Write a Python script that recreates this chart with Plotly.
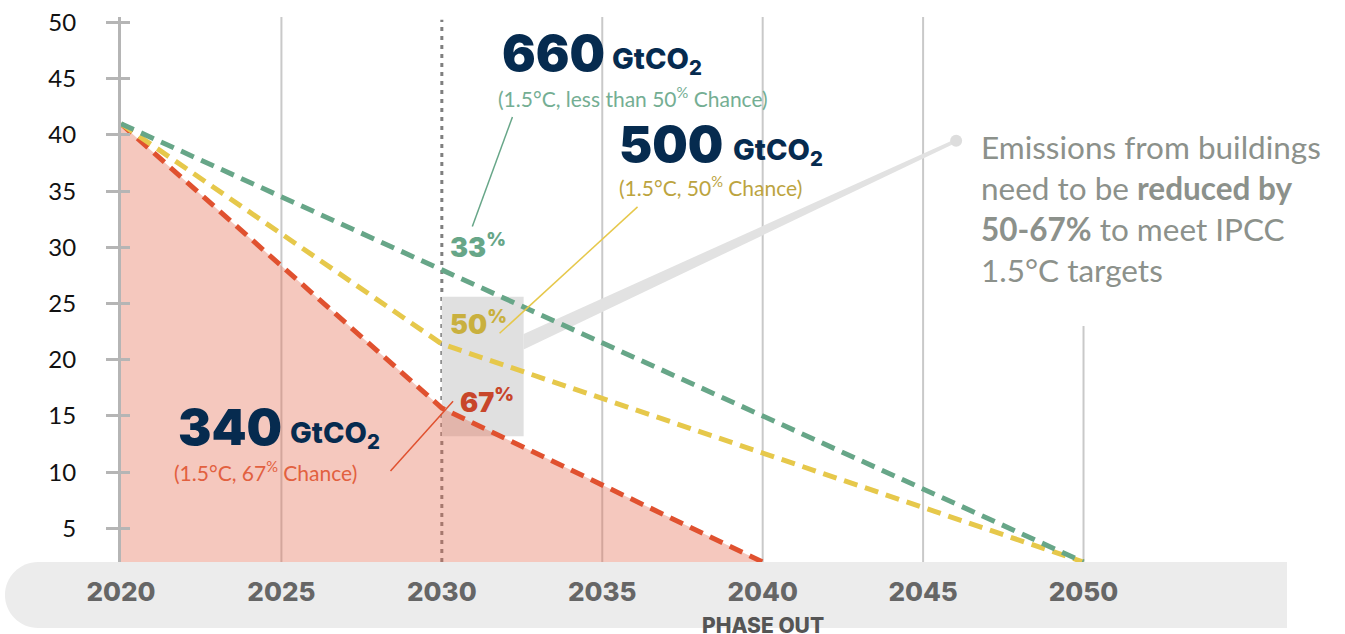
import plotly.graph_objects as go

# Building-sector emission pathways (GtCO2 / yr) for three 1.5°C carbon budgets
years_660 = [2020, 2050]
emis_660 = [41.0, 2.0]

years_500 = [2020, 2030, 2050]
emis_500 = [41.0, 21.4, 2.0]

years_340 = [2020, 2030, 2040]
emis_340 = [41.0, 15.7, 2.0]

axis_years = [2020, 2025, 2030, 2035, 2040, 2045, 2050]
axis_year_labels = ["2020", "2025", "2030", "2035", "2040", "2045", "2050"]
y_ticks = [5, 10, 15, 20, 25, 30, 35, 40, 45, 50]
y_tick_labels = ["5", "10", "15", "20", "25", "30", "35", "40", "45", "50"]

GREEN = "#67a688"
GOLD = "#e6c84b"
RED = "#e0512f"
NAVY = "#062b4f"
AXIS_GREY = "#b5b5b5"
GRID_GREY = "#c9c9c9"
FONT = "Lato, 'Open Sans', sans-serif"
HEAVY = "Inter, Lato, sans-serif"

DASH = "14px,8px"

fig = go.Figure()

# 340 GtCO2 budget: filled area under the pathway
fig.add_trace(go.Scatter(
    x=years_340, y=emis_340, mode="lines",
    line=dict(color=RED, width=5, dash=DASH),
    fill="tozeroy", fillcolor="rgba(230,110,85,0.38)",
    hoverinfo="skip",
))
fig.add_trace(go.Scatter(
    x=years_500, y=emis_500, mode="lines",
    line=dict(color=GOLD, width=5, dash=DASH),
    hoverinfo="skip",
))
fig.add_trace(go.Scatter(
    x=years_660, y=emis_660, mode="lines",
    line=dict(color=GREEN, width=5, dash=DASH),
    hoverinfo="skip",
))
# empty trace so the overlay axis (inner tick stubs) is drawn
fig.add_trace(go.Scatter(x=[], y=[], yaxis="y2", hoverinfo="skip"))

shapes = []

# rounded timeline band behind the year labels (paper coordinates)
xl, xr, yb = -0.0948, 0.9526, -0.1211
rx = 0.027
ry = -yb / 2
ym = yb / 2
k = 0.5523
cx = xl + rx
band_path = (
    f"M {cx},0 L {xr},0 L {xr},{yb} L {cx},{yb} "
    f"C {cx - k * rx},{yb} {xl},{ym - k * ry} {xl},{ym} "
    f"C {xl},{ym + k * ry} {cx - k * rx},0 {cx},0 Z"
)
shapes.append(dict(type="path", path=band_path, xref="paper", yref="paper",
                   fillcolor="#ececec", line=dict(width=0), layer="below"))

# highlight box around the 2030 reduction labels and its callout wedge
shapes.append(dict(type="rect", x0=2030, x1=2032.55, y0=13.2, y1=25.6,
                   xref="x", yref="y", fillcolor="#e0e0e0",
                   line=dict(width=0), layer="below"))
shapes.append(dict(type="path",
                   path="M 2032.55,22.3 L 2046.03,39.67 L 2046.03,39.31 L 2032.55,20.9 Z",
                   xref="x", yref="y", fillcolor="#e2e2e2",
                   line=dict(width=0), layer="below"))
shapes.append(dict(type="circle", xref="x", yref="y",
                   xsizemode="pixel", ysizemode="pixel",
                   xanchor=2046.03, yanchor=39.49,
                   x0=-6, x1=6, y0=-6, y1=6,
                   fillcolor="#dddddd", line=dict(width=0), layer="below"))

# vertical year guides
for yr in [2025, 2035, 2040, 2045]:
    shapes.append(dict(type="line", x0=yr, x1=yr, y0=0, y1=1,
                       xref="x", yref="paper",
                       line=dict(color=GRID_GREY, width=2), layer="below"))
shapes.append(dict(type="line", x0=2050, x1=2050, y0=2, y1=23.0,
                   xref="x", yref="y",
                   line=dict(color=GRID_GREY, width=2), layer="below"))
shapes.append(dict(type="line", x0=2030, x1=2030, y0=0, y1=0.995,
                   xref="x", yref="paper",
                   line=dict(color="#7f7f7f", width=3, dash="4px,5px"),
                   layer="below"))

# leader lines from budget labels to the percentage markers
shapes.append(dict(type="line", x0=2032.2, y0=41.6, x1=2030.95, y1=31.85,
                   xref="x", yref="y", line=dict(color=GREEN, width=1.5)))
shapes.append(dict(type="line", x0=2036.1, y0=33.6, x1=2031.8, y1=22.35,
                   xref="x", yref="y", line=dict(color=GOLD, width=1.5)))
shapes.append(dict(type="line", x0=2030.35, y0=16.3, x1=2028.4, y1=10.1,
                   xref="x", yref="y", line=dict(color=RED, width=1.5)))


def big(text, x, y):
    return dict(x=x, y=y, xref="x", yref="y", text=text, showarrow=False,
                xanchor="left", yanchor="middle",
                font=dict(family=HEAVY, size=50, color=NAVY, weight=900))


def unit(x, y):
    return dict(x=x, y=y, xref="x", yref="y", text="GtCO<sub>2</sub>",
                showarrow=False, xanchor="left", yanchor="middle",
                font=dict(family=HEAVY, size=29, color=NAVY, weight=800))


def sub(text, x, y, color):
    return dict(x=x, y=y, xref="x", yref="y", text=text, showarrow=False,
                xanchor="left", yanchor="middle",
                font=dict(family=FONT, size=21, color=color))


def pct(text, x, y, color):
    return dict(x=x, y=y, xref="x", yref="y", text=text, showarrow=False,
                xanchor="left", yanchor="middle",
                font=dict(family=HEAVY, size=27, color=color, weight=900))


annotations = [
    big("660", 2031.8, 47.3),
    unit(2035.25, 46.65),
    sub("(1.5°C, less than 50<sup>%</sup> Chance)", 2031.7, 43.4, "#74ae93"),
    big("500", 2035.45, 39.2),
    unit(2039.0, 38.55),
    sub("(1.5°C, 50<sup>%</sup> Chance)", 2035.45, 35.5, "#bca43f"),
    big("340", 2021.7, 14.0),
    unit(2025.2, 13.35),
    sub("(1.5°C, 67<sup>%</sup> Chance)", 2021.6, 10.1, "#e2603f"),
    pct("33<sup>%</sup>", 2030.2, 30.1, GREEN),
    pct("50<sup>%</sup>", 2030.2, 23.3, "#c9b03e"),
    pct("67<sup>%</sup>", 2030.5, 16.3, "#c8462a"),
    dict(x=2046.75, y=33.45, xref="x", yref="y",
         text=("Emissions from buildings<br>need to be <b>reduced by</b><br>"
               "<b>50-67%</b> to meet IPCC<br>1.5°C targets"),
         showarrow=False, xanchor="left", yanchor="middle", align="left",
         font=dict(family=FONT, size=31.5, color="#8c918b")),
    dict(x=2040, y=-0.1156, xref="x", yref="paper", text="PHASE OUT",
         showarrow=False, xanchor="center", yanchor="middle",
         font=dict(family=HEAVY, size=21, color="#555555", weight=800)),
]

fig.update_layout(
    width=1345, height=634,
    margin=dict(l=121, r=0, t=17, b=72, autoexpand=False),
    paper_bgcolor="white", plot_bgcolor="white",
    showlegend=False,
    shapes=shapes,
    annotations=annotations,
    xaxis=dict(
        range=[2020, 2058.15], tickvals=axis_years, ticktext=axis_year_labels,
        showgrid=False, zeroline=False, showline=False, ticks="",
        tickfont=dict(family=HEAVY, size=26, color="#666666", weight=800),
        ticklabelstandoff=12,
    ),
    yaxis=dict(
        range=[2, 50.5], tickvals=y_ticks, ticktext=y_tick_labels,
        showgrid=False, zeroline=False,
        showline=True, linecolor=AXIS_GREY, linewidth=3,
        ticks="outside", ticklen=12, tickwidth=3, tickcolor=AXIS_GREY,
        tickfont=dict(family=FONT, size=24, color="#111111"),
        ticklabelstandoff=25,
    ),
    yaxis2=dict(
        range=[2, 50.5], overlaying="y", side="left", tickvals=y_ticks,
        showgrid=False, zeroline=False, showline=False,
        ticks="inside", ticklen=9, tickwidth=3, tickcolor=AXIS_GREY,
        showticklabels=False,
    ),
)

fig.write_html("out.html")
